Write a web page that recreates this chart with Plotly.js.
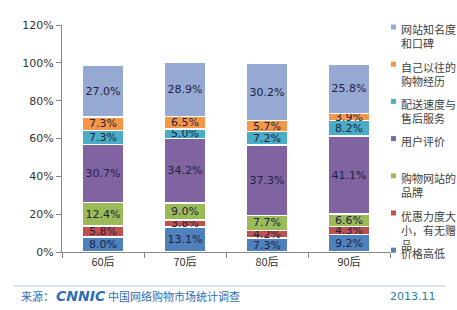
<!DOCTYPE html>
<html><head><meta charset="utf-8">
<script src="https://cdn.plot.ly/plotly-3.0.1.min.js"></script>
<style>body{margin:0;background:#fff}#c{width:457px;height:310px}</style>
</head><body><div id="c"></div>
<script>
const categories = ["60后","70后","80后","90后"];
const seriesNames = ["价格高低","优惠力度大<br>小，有无赠<br>品","购物网站的<br>品牌","用户评价","配送速度与<br>售后服务","自己以往的<br>购物经历","网站知名度<br>和口碑"];
const price      = [8.0, 13.1, 7.3, 9.2];
const discount   = [5.8, 3.8, 4.2, 4.3];
const brand      = [12.4, 9.0, 7.7, 6.6];
const review     = [30.7, 34.2, 37.3, 41.1];
const delivery   = [7.3, 5.0, 7.2, 8.2];
const experience = [7.3, 6.5, 5.7, 3.9];
const reputation = [27.0, 28.9, 30.2, 25.8];
const yTicks = [0,20,40,60,80,100,120];
const yTickLabels = ["0%","20%","40%","60%","80%","100%","120%"];

const series = [price, discount, brand, review, delivery, experience, reputation];
const colors = ["#4F81BD","#C0504D","#9BBB59","#8064A2","#4BACC6","#F79646","#95A9D3"];

const W = 457, H = 310, ML = 62, MR = 67, MT = 25, MB = 58;
const PW = W - ML - MR, PH = H - MT - MB;
const px = x => (x - ML) / PW;          // pixel -> paper x
const py = y => (H - MB - y) / PH;      // pixel -> paper y

const traces = series.map((vals, i) => ({
  type: "bar",
  name: seriesNames[i],
  x: categories,
  y: vals,
  marker: {color: colors[i], line: {color: "#ffffff", width: 1.5}},
  text: vals.map(v => v.toFixed(1) + "%"),
  textposition: "inside",
  insidetextanchor: "middle",
  textangle: 0,
  constraintext: "none",
  textfont: {family: "DejaVu Sans", size: 11, color: "#1c2244"},
  hoverinfo: "skip",
  showlegend: false
}));

// custom legend (top = last series), laid out like the reference
const shapes = [
  {type: "line", xref: "paper", yref: "paper", x0: px(14), x1: px(446), y0: py(286), y1: py(286),
   line: {color: "#b8c8dc", width: 1}}
];
const annotations = [];
const legendTop = 27, legendStep = 37.2;
for (let k = 0; k < series.length; k++) {
  const i = series.length - 1 - k;
  const yc = legendTop + k * legendStep;
  shapes.push({type: "rect", xref: "paper", yref: "paper",
    x0: px(391), x1: px(396), y0: py(yc + 2.5), y1: py(yc - 2.5),
    fillcolor: colors[i], line: {width: 0}});
  annotations.push({xref: "paper", yref: "paper", x: px(399), y: py(yc - 7.5),
    xanchor: "left", yanchor: "top", align: "left", showarrow: false,
    text: seriesNames[i], font: {family: "Noto Sans CJK SC", size: 11, color: "#404040"}});
}
annotations.push(
  {xref: "paper", yref: "paper", x: px(19), y: py(296), xanchor: "left", yanchor: "middle", showarrow: false,
   text: "来源：", font: {family: "Noto Sans CJK SC", size: 11, color: "#2E6DB4"}},
  {xref: "paper", yref: "paper", x: px(54), y: py(296), xanchor: "left", yanchor: "middle", showarrow: false,
   text: "<b><i>CNNIC</i></b>", font: {family: "DejaVu Sans", size: 14, color: "#2E6DB4"}},
  {xref: "paper", yref: "paper", x: px(106), y: py(296), xanchor: "left", yanchor: "middle", showarrow: false,
   text: "中国网络购物市场统计调查", font: {family: "Noto Sans CJK SC", size: 11, color: "#2E6DB4"}},
  {xref: "paper", yref: "paper", x: px(438), y: py(296), xanchor: "right", yanchor: "middle", showarrow: false,
   text: "2013.11", font: {family: "DejaVu Sans", size: 11, color: "#2E7DA8"}}
);

const layout = {
  width: W, height: H,
  margin: {l: ML, r: MR, t: MT, b: MB},
  barmode: "stack",
  bargap: 0.5,
  paper_bgcolor: "#ffffff",
  plot_bgcolor: "#ffffff",
  showlegend: false,
  xaxis: {
    showline: true, linecolor: "#868686", linewidth: 1,
    ticks: "outside", tickson: "boundaries", ticklen: 5, tickcolor: "#868686",
    tickfont: {family: "Noto Sans CJK SC", size: 11, color: "#333333"},
    fixedrange: true, automargin: false
  },
  yaxis: {
    range: [0, 120],
    tickvals: yTicks, ticktext: yTickLabels,
    showline: true, linecolor: "#868686", linewidth: 1,
    ticks: "outside", ticklen: 5, tickcolor: "#868686",
    showgrid: false, zeroline: false,
    tickfont: {family: "DejaVu Sans", size: 11, color: "#333333"},
    fixedrange: true, automargin: false
  },
  shapes: shapes,
  annotations: annotations
};

Plotly.newPlot("c", traces, layout, {displayModeBar: false, staticPlot: true});
</script></body></html>
